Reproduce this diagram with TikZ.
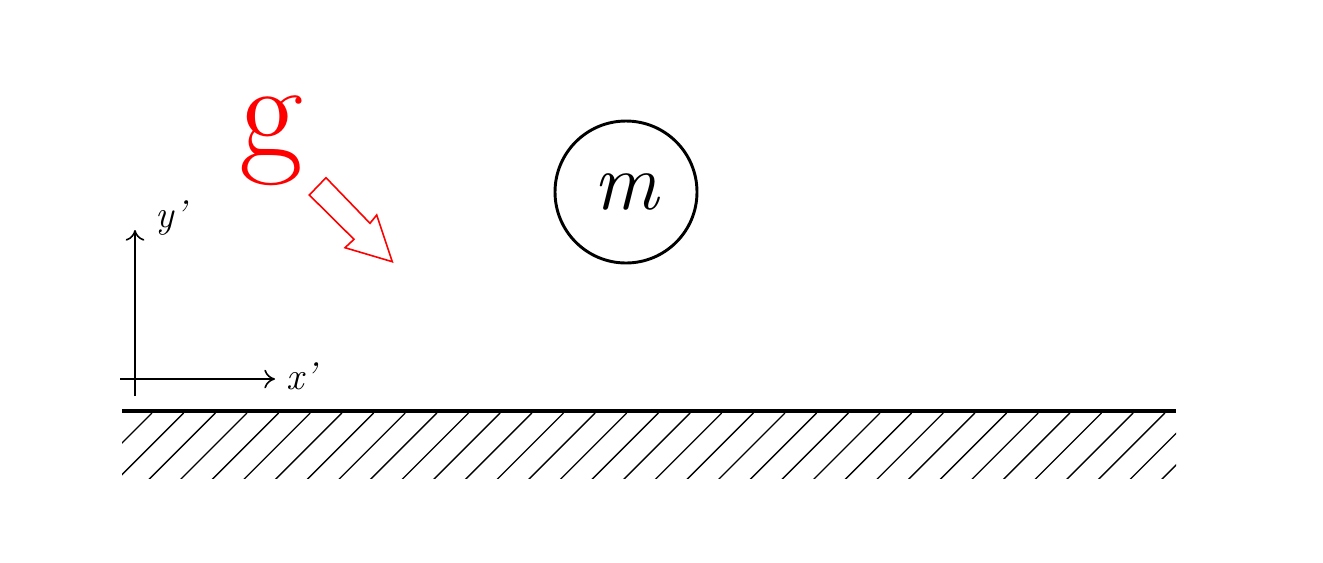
\documentclass[tikz,border=0pt]{standalone}
\usepackage{fontspec}
\usetikzlibrary{arrows.meta}
\begin{document}
\begin{tikzpicture}[x=0.75pt,y=-0.75pt,
  axis/.style={line width=1.5pt,-{To[length=8pt,width=14pt,line width=1.2pt]}},
  ground/.style={line width=3pt},
  hatch/.style={line width=1.0pt},
  mass/.style={circle,draw,line width=2.2pt,minimum size=142*0.75pt,inner sep=0pt},
  garrow/.style={draw=red,line width=1.2pt,line join=miter},
  axlabel/.style={font=\fontsize{29}{29}\selectfont\itshape}]
\useasboundingbox (0,0) rectangle (1323,562);
% ground
\begin{scope}
\clip (122,413) rectangle (1176,478);
\foreach \i in {0,...,40}{
  \draw[hatch] ({152+31.65*\i},413) -- ++(-80,80);
}
\end{scope}
\coordinate (gl) at (122,411);
\coordinate (gr) at (1176,411);
\draw[ground] (gl) -- (gr);
% axes
\coordinate (o) at (135,379);
\coordinate (ybot) at (135,396);
\coordinate (ytop) at (135,230);
\coordinate (xl) at (120,379);
\coordinate (xr) at (275,379);
\draw[axis] (ybot) -- (ytop);
\draw[axis] (xl) -- (xr);
\node[axlabel] (xlab) at (301,376) {x\kern0.5pt'};
\node[axlabel] (ylab) at (171,218) {y\kern0.5pt'};
% mass
\node[mass] (m) at (626,192) {\fontsize{61}{61}\selectfont\itshape m};
% gravity
\node[text=red] (g) at (271,141) {\fontsize{104}{104}\selectfont g};
\draw[garrow] (309.3,195) -- (326,177.7) -- (370,223.3) -- (376.7,215) -- (392.3,261.7) -- (345,247.7) -- (354,239.3) -- cycle;
\end{tikzpicture}
\end{document}
